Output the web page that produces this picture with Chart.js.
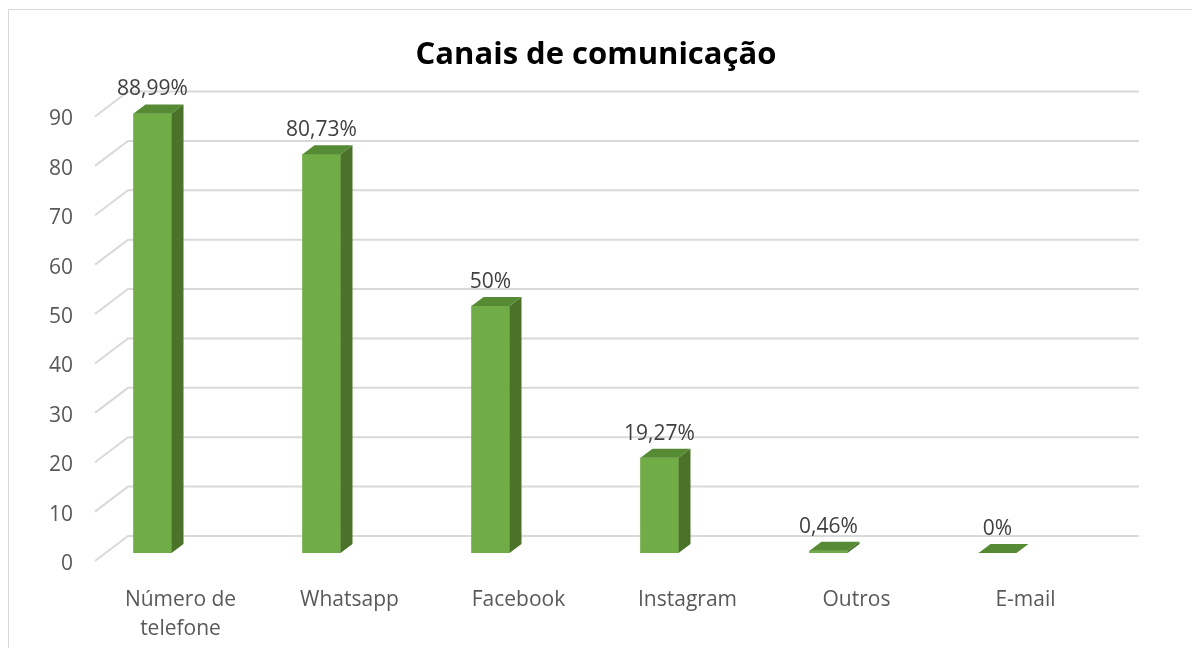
<!DOCTYPE html>
<html>
<head>
<meta charset="utf-8">
<script src="https://cdn.jsdelivr.net/npm/chart.js@4.4.1/dist/chart.umd.min.js"></script>
<style>
  body { margin: 0; background: #fff; overflow: hidden; }
  #wrap { position: relative; width: 1192px; height: 648px; }
  #frame { position: absolute; left: 8px; top: 9px; width: 1400px; height: 900px;
           border: 1px solid #d9d9d9; pointer-events: none; }
</style>
</head>
<body>
<div id="wrap">
  <canvas id="chart"></canvas>
  <div id="frame"></div>
</div>
<script>
var categories = [["Número de", "telefone"], "Whatsapp", "Facebook", "Instagram", "Outros", "E-mail"];
var values = [88.99, 80.73, 50, 19.27, 0.46, 0];
var yMin = 0, yMax = 90, yStep = 10;

var frontColor = "#70ad47";
var sideColor = "#4a7229";
var topColor = "#568a34";
var depthX = 12, depthY = 9;

// back wall + side wall lines, like excel's 3d grid, plus the y labels
var wallGrid = {
  id: "wallGrid",
  beforeDatasetsDraw: function(chart) {
    var ctx = chart.ctx, y = chart.scales.y, area = chart.chartArea;
    ctx.save();
    ctx.strokeStyle = "#d9d9d9";
    ctx.lineWidth = 2;
    ctx.fillStyle = "#595959";
    ctx.font = "21px 'Open Sans'";
    ctx.textAlign = "right";
    ctx.textBaseline = "middle";
    y.ticks.forEach(function(t) {
      var py = y.getPixelForValue(t.value);
      ctx.beginPath();
      ctx.moveTo(area.left + 27, py + 8);
      ctx.lineTo(area.left + 60, py - 17);
      ctx.lineTo(area.right + 57, py - 17);
      ctx.stroke();
      ctx.fillText(String(t.value), area.left + 5, py + 11);
    });
    ctx.restore();
  }
};

var barFaces = {
  id: "barFaces",
  afterDatasetsDraw: function(chart) {
    var ctx = chart.ctx;
    ctx.save();
    chart.getDatasetMeta(0).data.forEach(function(bar, i) {
      var l = bar.x - bar.width / 2, r = bar.x + bar.width / 2;
      var t = bar.y, b = bar.base;
      if (b - t > 0.5) {
        ctx.fillStyle = sideColor;
        ctx.beginPath();
        ctx.moveTo(r, t);
        ctx.lineTo(r + depthX, t - depthY);
        ctx.lineTo(r + depthX, b - depthY);
        ctx.lineTo(r, b);
        ctx.closePath();
        ctx.fill();
      }
      ctx.fillStyle = topColor;
      ctx.beginPath();
      ctx.moveTo(l, t);
      ctx.lineTo(l + depthX, t - depthY);
      ctx.lineTo(r + depthX, t - depthY);
      ctx.lineTo(r, t);
      ctx.closePath();
      ctx.fill();

      // value label
      ctx.fillStyle = "#404040";
      ctx.font = "21px 'Open Sans'";
      ctx.textAlign = "center";
      ctx.textBaseline = "middle";
      var txt = String(values[i]).replace(".", ",") + "%";
      ctx.fillText(txt, bar.x, t - 24);
    });
    ctx.restore();
  }
};

var ctx = document.getElementById("chart");
var myChart = new Chart(ctx, {
  type: "bar",
  data: {
    labels: categories,
    datasets: [{
      data: values,
      backgroundColor: frontColor,
      borderWidth: 0,
      barThickness: 38
    }]
  },
  options: {
    responsive: true,
    maintainAspectRatio: false,
    animation: false,
    layout: { padding: 0 },
    plugins: {
      legend: { display: false },
      tooltip: { enabled: false },
      title: {
        display: true,
        text: "Canais de comunicação",
        color: "#000",
        font: { family: "Open Sans", size: 31, weight: "bold" },
        padding: { top: 37, bottom: 34.3 }
      }
    },
    scales: {
      x: {
        grid: { display: false },
        border: { display: false },
        afterFit: function(s) { s.height = 95; },
        ticks: {
          color: "#595959",
          font: { family: "Open Sans", size: 21, lineHeight: 1.38 },
          padding: 25,
          labelOffset: 28,
          maxRotation: 0,
          autoSkip: false
        }
      },
      y: {
        min: yMin,
        max: yMax,
        grid: { display: false, drawTicks: false },
        border: { display: false },
        afterFit: function(s) { s.width = 68; },
        ticks: { stepSize: yStep, display: false }
      },
      // empty spacer on the right so the plot ends where the reference does
      spacer: {
        type: "linear",
        position: "right",
        grid: { display: false, drawTicks: false },
        border: { display: false },
        ticks: { display: false },
        afterFit: function(s) { s.width = 110; }
      }
    }
  },
  plugins: [wallGrid, barFaces]
});
</script>
</body>
</html>
